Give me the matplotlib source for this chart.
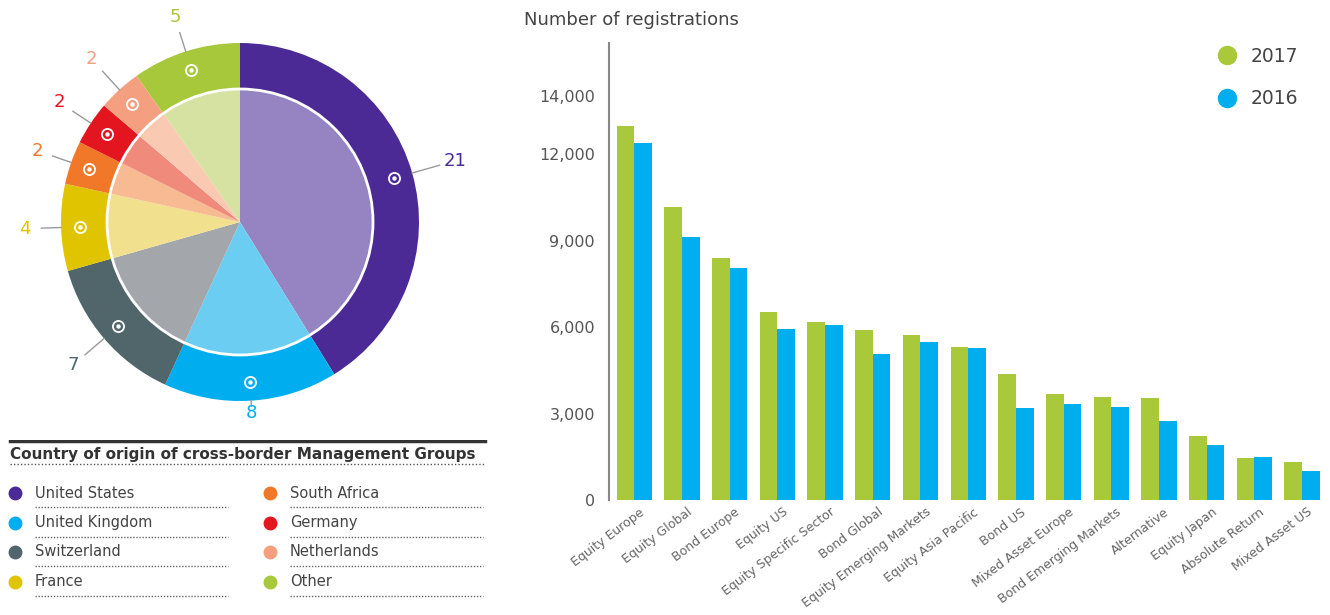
import numpy as np
import matplotlib as mpl
import matplotlib.pyplot as plt
from matplotlib.lines import Line2D
from matplotlib.patches import Circle

mpl.use('Agg')

# ---- data ----
countries = ['United States', 'United Kingdom', 'Switzerland', 'France',
             'South Africa', 'Germany', 'Netherlands', 'Other']
groups = [21, 8, 7, 4, 2, 2, 2, 5]
outer_colors = ['#4B2A96', '#00AEEF', '#50666A', '#E1C400',
                '#F07828', '#E3151F', '#F4A080', '#A8C83C']
inner_colors = ['#9683C2', '#6CCDF2', '#A3A7AB', '#F1E08E',
                '#F8BA92', '#F08A7A', '#F9C9B2', '#D6E2A2']

categories = ['Equity Europe', 'Equity Global', 'Bond Europe', 'Equity US',
              'Equity Specific Sector', 'Bond Global', 'Equity Emerging Markets',
              'Equity Asia Pacific', 'Bond US', 'Mixed Asset Europe',
              'Bond Emerging Markets', 'Alternative', 'Equity Japan',
              'Absolute Return', 'Mixed Asset US']
reg_2017 = [12970, 10150, 8400, 6530, 6180, 5900, 5720, 5320,
            4370, 3670, 3560, 3530, 2220, 1470, 1330]
reg_2016 = [12370, 9110, 8060, 5920, 6070, 5050, 5470, 5280,
            3180, 3320, 3240, 2750, 1910, 1500, 1020]
y_ticks = [0, 3000, 6000, 9000, 12000, 14000]

GREEN = '#A9C93A'
BLUE = '#00AEEF'
W, H = 1330, 615

fig = plt.figure(figsize=(W / 100, H / 100), dpi=100)

# ---- donut / pie (axes in pixel-like units) ----
axp = fig.add_axes([0, 175 / H, 480 / W, 440 / H])
cx, cy, R, r_in = 240, 218, 179, 133
axp.pie(groups, radius=R, center=(cx, cy), startangle=90, counterclock=False,
        colors=outer_colors, wedgeprops=dict(width=R - r_in, linewidth=0))
axp.pie(groups, radius=r_in, center=(cx, cy), startangle=90, counterclock=False,
        colors=inner_colors, wedgeprops=dict(linewidth=0))
axp.add_patch(Circle((cx, cy), r_in, fill=False, ec='white', lw=2, zorder=5))
axp.set_xlim(0, 480)
axp.set_ylim(0, 440)
axp.set_aspect('equal')
axp.axis('off')

total = float(sum(groups))
label_r = [1.25, 1.07, 1.23, 1.2, 1.2, 1.21, 1.23, 1.2]
start = 0.0
for i, v in enumerate(groups):
    mid = np.radians(start + v / total * 360 / 2)
    start += v / total * 360
    dx, dy = np.sin(mid), np.cos(mid)
    rm = 160
    axp.plot(cx + rm * dx, cy + rm * dy, 'o', ms=8, mfc='none', mec='white',
             mew=1.3, zorder=6)
    axp.plot(cx + rm * dx, cy + rm * dy, 'o', ms=2.2, color='white', zorder=6)
    r_line = R * (label_r[i] - 0.09) if label_r[i] > 1.1 else R * 1.03
    axp.plot([cx + R * dx, cx + r_line * dx], [cy + R * dy, cy + r_line * dy],
             color='#9a9a9a', lw=1)
    axp.text(cx + R * label_r[i] * dx, cy + R * label_r[i] * dy, str(v),
             color=outer_colors[i], fontsize=13, ha='center', va='center')

# ---- country legend ----
axl = fig.add_axes([0, 0, 490 / W, 175 / H])
axl.set_xlim(0, 490)
axl.set_ylim(615, 440)
axl.axis('off')
axl.plot([10, 485], [441, 441], color='#333333', lw=2.5)
axl.text(10, 455, 'Country of origin of cross-border Management Groups',
         fontsize=11, fontweight='bold', color='#333333', va='center')
axl.plot([10, 485], [464, 464], color='#555555', lw=1, ls=(0, (1, 1.5)))
for i, name in enumerate(countries):
    col, row = divmod(i, 4)
    x0 = 15 + col * 255
    y0 = 493 + row * 29.5
    axl.plot(x0, y0, 'o', ms=9, color=outer_colors[i])
    axl.text(x0 + 20, y0, name, fontsize=10.5, color='#444444', va='center')
    axl.plot([x0 + 20, x0 + 213], [y0 + 14, y0 + 14], color='#666666', lw=1,
             ls=(0, (1, 1.2)))

# ---- bar chart ----
ax = fig.add_axes([609 / W, 1 - 500 / H, (1325 - 609) / W, (500 - 43) / H])
x = np.arange(len(categories))
bw = 0.37
ax.bar(x - bw / 2, reg_2017, bw, color=GREEN, linewidth=0)
ax.bar(x + bw / 2, reg_2016, bw, color=BLUE, linewidth=0)
ax.set_xlim(-0.53, 14.48)
ax.set_ylim(0, 15850)
for s in ['top', 'right', 'bottom']:
    ax.spines[s].set_visible(False)
ax.spines['left'].set_color('#888888')
ax.spines['left'].set_linewidth(1.5)
ax.set_yticks(y_ticks)
ax.set_yticklabels(['{:,}'.format(t) for t in y_ticks])
ax.tick_params(axis='y', length=0, pad=10, labelsize=11.5, labelcolor='#555555')
ax.set_xticks(x + 0.1)
ax.set_xticklabels(categories, rotation=37, ha='right', rotation_mode='anchor',
                   fontsize=9, color='#666666')
ax.tick_params(axis='x', length=0, pad=4)

fig.text(524 / W, 1 - 20 / H, 'Number of registrations', fontsize=13,
         color='#444444', va='center')

handles = [Line2D([], [], marker='o', ls='', ms=13, color=GREEN),
           Line2D([], [], marker='o', ls='', ms=13, color=BLUE)]
fig.legend(handles, ['2017', '2016'], loc='upper left',
           bbox_to_anchor=(1208 / W, 1 - 47 / H), frameon=False,
           fontsize=13.5, labelcolor='#444444', handletextpad=0.3,
           labelspacing=1.25, borderaxespad=0, borderpad=0)

fig.savefig('out.png', dpi=100)
